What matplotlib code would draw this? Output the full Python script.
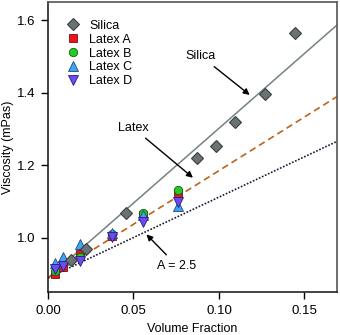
import numpy as np
import matplotlib
matplotlib.use('Agg')
import matplotlib.pyplot as plt

plt.rcParams['font.family'] = ['Liberation Sans', 'DejaVu Sans']
plt.rcParams['font.size'] = 9

# silica data
phi_silica = [0.0133, 0.0222, 0.0456, 0.0873, 0.0982, 0.1095, 0.1267, 0.1446]
eta_silica = [0.940, 0.971, 1.069, 1.219, 1.254, 1.319, 1.396, 1.566]

# latex data
phi_latex = [0.0041, 0.0090, 0.0187, 0.0376, 0.0557, 0.0758]
eta_latex_a = [0.902, 0.919, 0.956, 1.005, 1.062, 1.124]
eta_latex_b = [0.908, 0.935, 0.949, 1.010, 1.070, 1.131]
eta_latex_c = [0.931, 0.947, 0.983, 1.014, 1.064, 1.089]
eta_latex_d = [0.915, 0.924, 0.936, 1.002, 1.043, 1.100]

# fit lines: eta = eta0 * (1 + k * phi)
eta0 = 0.89
k_silica = 4.63
k_latex = 3.32
k_einstein = 2.5

fig = plt.figure(figsize=(3.4, 3.35), dpi=100)
ax = fig.add_axes([0.141, 0.127, 0.85, 0.867])

xx = np.array([0, 0.17])
ax.plot(xx, eta0 * (1 + k_silica * xx), color='#728282', lw=1.1, zorder=2)
ax.plot(xx, eta0 * (1 + k_latex * xx), color='#b8661c', lw=1.2, ls=(0, (4, 2.5)), zorder=2)
ax.plot(xx, eta0 * (1 + k_einstein * xx), color='#1a1a3a', lw=1.2, ls=(0, (1, 1)), zorder=2)

ax.plot(phi_silica, eta_silica, 'D', ms=6, mfc='#6b7274', mec='#3a3f40', mew=0.8, ls='none', label='Silica', zorder=5)
ax.plot(phi_latex, eta_latex_a, 's', ms=5.5, mfc='#e8161c', mec='#7a1010', mew=0.6, ls='none', label='Latex A', zorder=3)
ax.plot(phi_latex, eta_latex_b, 'o', ms=6, mfc='#22cc22', mec='#136013', mew=0.6, ls='none', label='Latex B', zorder=3)
ax.plot(phi_latex, eta_latex_c, '^', ms=6.5, mfc='#42a2f2', mec='#1a4a80', mew=0.6, ls='none', label='Latex C', zorder=3)
ax.plot(phi_latex, eta_latex_d, 'v', ms=6.5, mfc='#6a4cf0', mec='#2a1a80', mew=0.6, ls='none', label='Latex D', zorder=3)

ax.set_xlim(0, 0.169)
ax.set_ylim(0.85, 1.65)
ax.set_xticks([0.00, 0.05, 0.10, 0.15])
ax.set_xticklabels(['0.00', '0.05', '0.10', '0.15'])
ax.set_yticks([1.0, 1.2, 1.4, 1.6])
ax.set_yticklabels(['1.0', '1.2', '1.4', '1.6'])
ax.tick_params(direction='out', length=5, width=1, labelsize=9.5, pad=4)
ax.set_xlabel('Volume Fraction', fontsize=9, labelpad=4)
ax.set_ylabel('Viscosity (mPas)', fontsize=9)
ax.yaxis.set_label_coords(-0.119, 0.5)

for side in ['left', 'bottom']:
    ax.spines[side].set_color('#222222')
    ax.spines[side].set_linewidth(1.2)
for side in ['top', 'right']:
    ax.spines[side].set_color('#555555')
    ax.spines[side].set_linewidth(1.2)

arrow = dict(arrowstyle='-|>', color='black', lw=1, mutation_scale=9, shrinkA=2, shrinkB=0)
ax.annotate('Silica', xy=(0.118, 1.394), xytext=(0.0895, 1.501),
            ha='center', va='center', arrowprops=arrow)
ax.annotate('Latex', xy=(0.0848, 1.166), xytext=(0.0497, 1.304),
            ha='center', va='center', arrowprops=arrow)
ax.annotate('A = 2.5', xy=(0.0576, 1.010), xytext=(0.0754, 0.924),
            ha='center', va='center', arrowprops=arrow)

ax.legend(loc='upper left', frameon=False, fontsize=9, handletextpad=0.7,
          labelspacing=0.15, borderaxespad=0.0, handlelength=1.2,
          bbox_to_anchor=(0.043, 0.956))

fig.savefig('out.png', dpi=100)
